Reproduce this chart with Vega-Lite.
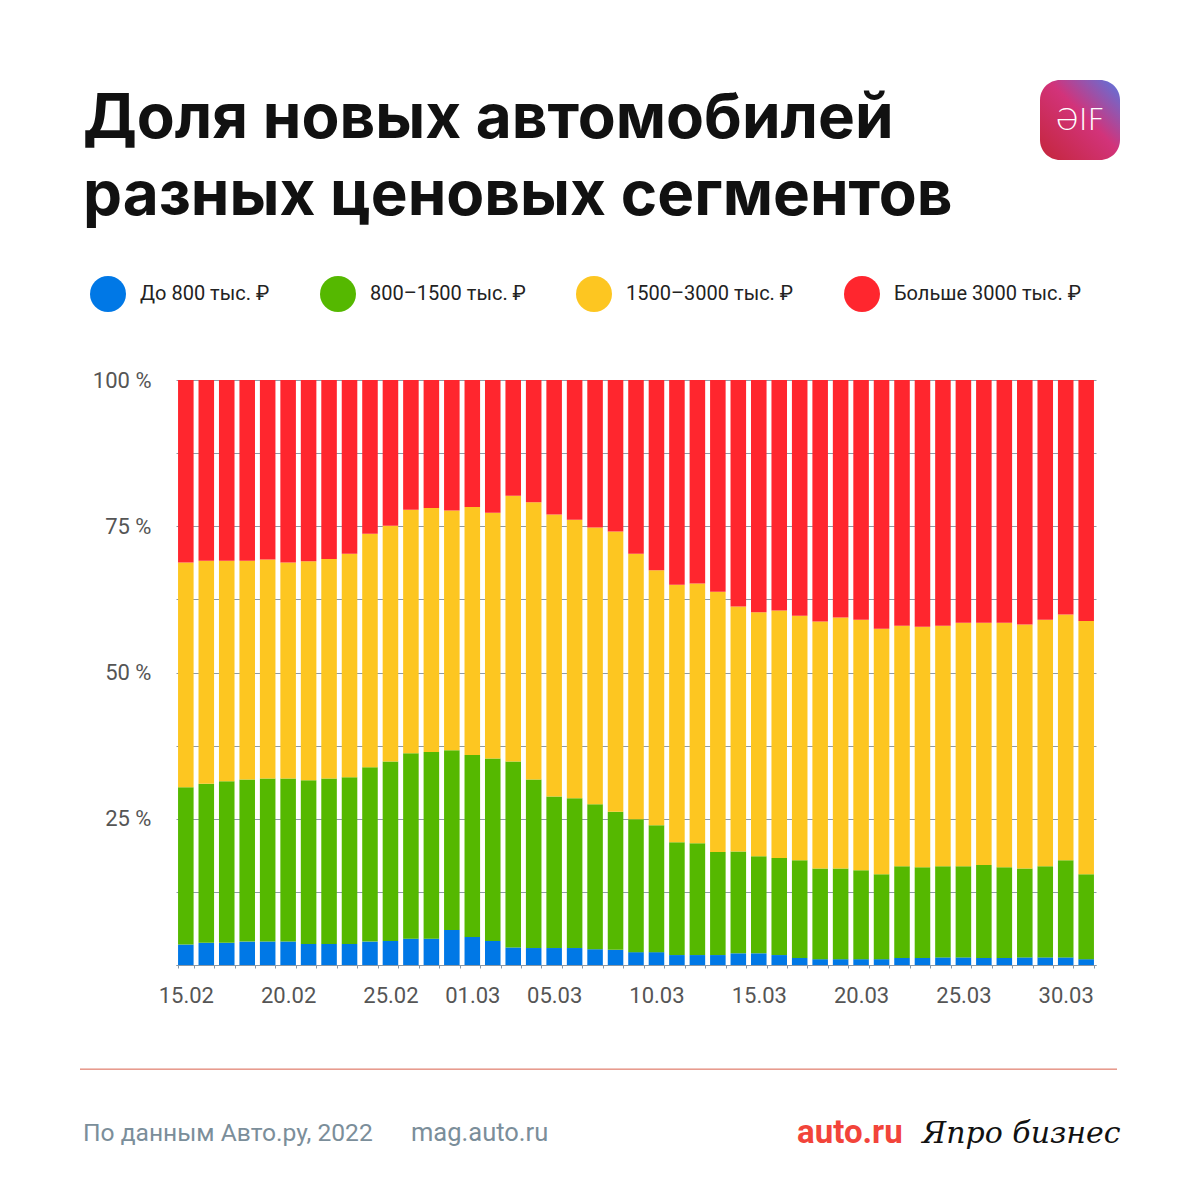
{
  "$schema": "https://vega.github.io/schema/vega-lite/v6.json",
  "width": 920,
  "height": 585,
  "autosize": {"type": "none"},
  "padding": {"left": 176, "top": 380, "right": 104, "bottom": 235},
  "background": "#ffffff",
  "config": {"view": {"stroke": null}, "font": "Roboto"},
  "layer": [
    {
      "data": {
        "values": [
          {"date": "15.02", "s1": 3.5, "s2": 26.9, "s3": 38.4, "s4": 31.2},
          {"date": "16.02", "s1": 3.8, "s2": 27.2, "s3": 38.1, "s4": 30.9},
          {"date": "17.02", "s1": 3.8, "s2": 27.6, "s3": 37.7, "s4": 30.9},
          {"date": "18.02", "s1": 4.0, "s2": 27.7, "s3": 37.4, "s4": 30.9},
          {"date": "19.02", "s1": 4.0, "s2": 27.9, "s3": 37.4, "s4": 30.7},
          {"date": "20.02", "s1": 4.0, "s2": 27.9, "s3": 36.9, "s4": 31.2},
          {"date": "21.02", "s1": 3.6, "s2": 28.0, "s3": 37.4, "s4": 31.0},
          {"date": "22.02", "s1": 3.6, "s2": 28.3, "s3": 37.5, "s4": 30.6},
          {"date": "23.02", "s1": 3.6, "s2": 28.5, "s3": 38.2, "s4": 29.7},
          {"date": "24.02", "s1": 4.0, "s2": 29.8, "s3": 39.9, "s4": 26.3},
          {"date": "25.02", "s1": 4.1, "s2": 30.7, "s3": 40.3, "s4": 24.9},
          {"date": "26.02", "s1": 4.5, "s2": 31.7, "s3": 41.6, "s4": 22.2},
          {"date": "27.02", "s1": 4.5, "s2": 31.9, "s3": 41.7, "s4": 21.9},
          {"date": "28.02", "s1": 6.0, "s2": 30.7, "s3": 41.0, "s4": 22.3},
          {"date": "01.03", "s1": 4.8, "s2": 31.1, "s3": 42.4, "s4": 21.7},
          {"date": "02.03", "s1": 4.1, "s2": 31.2, "s3": 42.0, "s4": 22.7},
          {"date": "03.03", "s1": 3.0, "s2": 31.8, "s3": 45.4, "s4": 19.8},
          {"date": "04.03", "s1": 2.9, "s2": 28.8, "s3": 47.4, "s4": 20.9},
          {"date": "05.03", "s1": 2.9, "s2": 25.9, "s3": 48.2, "s4": 23.0},
          {"date": "06.03", "s1": 2.9, "s2": 25.6, "s3": 47.6, "s4": 23.9},
          {"date": "07.03", "s1": 2.7, "s2": 24.8, "s3": 47.3, "s4": 25.2},
          {"date": "08.03", "s1": 2.6, "s2": 23.6, "s3": 47.9, "s4": 25.9},
          {"date": "09.03", "s1": 2.2, "s2": 22.7, "s3": 45.4, "s4": 29.7},
          {"date": "10.03", "s1": 2.2, "s2": 21.7, "s3": 43.6, "s4": 32.5},
          {"date": "11.03", "s1": 1.7, "s2": 19.3, "s3": 44.0, "s4": 35.0},
          {"date": "12.03", "s1": 1.7, "s2": 19.1, "s3": 44.4, "s4": 34.8},
          {"date": "13.03", "s1": 1.7, "s2": 17.6, "s3": 44.5, "s4": 36.2},
          {"date": "14.03", "s1": 2.0, "s2": 17.4, "s3": 41.9, "s4": 38.7},
          {"date": "15.03", "s1": 2.0, "s2": 16.6, "s3": 41.7, "s4": 39.7},
          {"date": "16.03", "s1": 1.7, "s2": 16.6, "s3": 42.3, "s4": 39.4},
          {"date": "17.03", "s1": 1.2, "s2": 16.7, "s3": 41.8, "s4": 40.3},
          {"date": "18.03", "s1": 1.0, "s2": 15.5, "s3": 42.2, "s4": 41.3},
          {"date": "19.03", "s1": 1.0, "s2": 15.5, "s3": 42.9, "s4": 40.6},
          {"date": "20.03", "s1": 1.0, "s2": 15.2, "s3": 42.8, "s4": 41.0},
          {"date": "21.03", "s1": 1.0, "s2": 14.5, "s3": 42.0, "s4": 42.5},
          {"date": "22.03", "s1": 1.2, "s2": 15.7, "s3": 41.1, "s4": 42.0},
          {"date": "23.03", "s1": 1.2, "s2": 15.5, "s3": 41.1, "s4": 42.2},
          {"date": "24.03", "s1": 1.3, "s2": 15.6, "s3": 41.1, "s4": 42.0},
          {"date": "25.03", "s1": 1.3, "s2": 15.6, "s3": 41.6, "s4": 41.5},
          {"date": "26.03", "s1": 1.2, "s2": 15.9, "s3": 41.4, "s4": 41.5},
          {"date": "27.03", "s1": 1.2, "s2": 15.5, "s3": 41.8, "s4": 41.5},
          {"date": "28.03", "s1": 1.3, "s2": 15.2, "s3": 41.7, "s4": 41.8},
          {"date": "29.03", "s1": 1.3, "s2": 15.6, "s3": 42.1, "s4": 41.0},
          {"date": "30.03", "s1": 1.3, "s2": 16.6, "s3": 42.0, "s4": 40.1},
          {"date": "31.03", "s1": 1.0, "s2": 14.5, "s3": 43.3, "s4": 41.2}
        ]
      },
      "transform": [{"fold": ["s1", "s2", "s3", "s4"], "as": ["seg", "share"]}],
      "mark": {"type": "bar"},
      "encoding": {
        "x": {
          "field": "date",
          "type": "nominal",
          "sort": null,
          "scale": {"paddingInner": 0.24, "paddingOuter": 0.1},
          "axis": {
            "title": null,
            "labelExpr": "indexof(['15.02', '20.02', '25.02', '01.03', '05.03', '10.03', '15.03', '20.03', '25.03', '30.03'], datum.label) >= 0 ? datum.label : ''",
            "labelOverlap": false,
            "labelAngle": 0,
            "labelFontSize": 22,
            "labelColor": "#555555",
            "labelPadding": 17,
            "ticks": true,
            "tickBand": "extent",
            "tickSize": 3,
            "tickColor": "#8a98a5",
            "domainColor": "#8a98a5",
            "domainWidth": 1
          }
        },
        "y": {
          "field": "share",
          "type": "quantitative",
          "stack": "zero",
          "scale": {"domain": [0, 100], "nice": false},
          "axis": {
            "title": null,
            "values": [0, 12.5, 25, 37.5, 50, 62.5, 75, 87.5, 100],
            "labelExpr": "datum.value > 0 && datum.value % 25 == 0 ? datum.value + ' %' : ''",
            "domain": false,
            "ticks": false,
            "gridColor": "#8f9ba6",
            "gridWidth": 1,
            "labelFontSize": 22,
            "labelColor": "#555555",
            "labelPadding": 25
          }
        },
        "color": {
          "field": "seg",
          "type": "nominal",
          "scale": {"domain": ["s1", "s2", "s3", "s4"], "range": ["#0078e6", "#55b800", "#fdc621", "#ff262e"]},
          "legend": {
            "orient": "none",
            "legendX": -86,
            "legendY": -104,
            "direction": "horizontal",
            "title": null,
            "padding": 0,
            "symbolType": "circle",
            "symbolSize": 1296,
            "symbolStrokeWidth": 0,
            "symbolOpacity": 1,
            "labelFontSize": 20,
            "labelColor": "#222222",
            "labelOffset": 14,
            "labelLimit": 400,
            "columnPadding": 50,
            "labelExpr": "datum.label == 's1' ? 'До 800 тыс. ₽' : datum.label == 's2' ? '800–1500 тыс. ₽' : datum.label == 's3' ? '1500–3000 тыс. ₽' : 'Больше 3000 тыс. ₽'"
          }
        },
        "order": {"field": "seg", "sort": "ascending"}
      }
    },
    {
      "layer": [
        {
          "data": {"values": [{"t": "Доля новых автомобилей\nразных ценовых сегментов"}]},
          "mark": {"type": "text", "lineBreak": "\n", "lineHeight": 77, "font": "Inter", "fontSize": 62, "fontWeight": 700, "color": "#111111", "align": "left", "baseline": "alphabetic"},
          "encoding": {
            "x": {"datum": -93, "type": "quantitative", "scale": {"domain": [0, 920], "nice": false}, "axis": null},
            "y": {"datum": 141.4, "type": "quantitative", "scale": {"domain": [0, 100], "nice": false}, "axis": null},
            "text": {"field": "t"}
          }
        },
        {
          "data": {"values": [{"t": "logo"}]},
          "mark": {
            "type": "rect",
            "cornerRadius": 20,
            "fill": {
              "gradient": "linear",
              "x1": 0, "y1": 1, "x2": 1, "y2": 0,
              "stops": [
                {"offset": 0, "color": "#c4263a"},
                {"offset": 0.55, "color": "#d2337a"},
                {"offset": 1, "color": "#5876e0"}
              ]
            }
          },
          "encoding": {
            "x": {"datum": 864, "type": "quantitative", "scale": {"domain": [0, 920], "nice": false}, "axis": null},
            "x2": {"datum": 944},
            "y": {"datum": 151.3, "type": "quantitative", "scale": {"domain": [0, 100], "nice": false}, "axis": null},
            "y2": {"datum": 137.6}
          }
        },
        {
          "data": {"values": [{"t": "ƏIF"}]},
          "mark": {"type": "text", "font": "DejaVu Sans", "fontSize": 30, "fontWeight": 300, "color": "#ffffff", "align": "center", "baseline": "middle"},
          "encoding": {
            "x": {"datum": 904, "type": "quantitative", "scale": {"domain": [0, 920], "nice": false}, "axis": null},
            "y": {"datum": 144.3, "type": "quantitative", "scale": {"domain": [0, 100], "nice": false}, "axis": null},
            "text": {"field": "t"}
          }
        },
        {
          "data": {"values": [{"t": "line"}]},
          "mark": {"type": "rule", "color": "#d9604c", "strokeWidth": 1},
          "encoding": {
            "x": {"datum": -96, "type": "quantitative", "scale": {"domain": [0, 920], "nice": false}, "axis": null},
            "x2": {"datum": 941},
            "y": {"datum": -17.8, "type": "quantitative", "scale": {"domain": [0, 100], "nice": false}, "axis": null}
          }
        },
        {
          "data": {"values": [{"t": "По данным Авто.ру, 2022"}]},
          "mark": {"type": "text", "fontSize": 24.6, "color": "#7b8e9a", "align": "left", "baseline": "alphabetic"},
          "encoding": {
            "x": {"datum": -93, "type": "quantitative", "scale": {"domain": [0, 920], "nice": false}, "axis": null},
            "y": {"datum": -30.1, "type": "quantitative", "scale": {"domain": [0, 100], "nice": false}, "axis": null},
            "text": {"field": "t"}
          }
        },
        {
          "data": {"values": [{"t": "mag.auto.ru"}]},
          "mark": {"type": "text", "fontSize": 25.5, "color": "#7b8e9a", "align": "left", "baseline": "alphabetic"},
          "encoding": {
            "x": {"datum": 235, "type": "quantitative", "scale": {"domain": [0, 920], "nice": false}, "axis": null},
            "y": {"datum": -30.1, "type": "quantitative", "scale": {"domain": [0, 100], "nice": false}, "axis": null},
            "text": {"field": "t"}
          }
        },
        {
          "data": {"values": [{"t": "auto.ru"}]},
          "mark": {"type": "text", "fontSize": 33, "fontWeight": 700, "color": "#f2443a", "align": "left", "baseline": "alphabetic"},
          "encoding": {
            "x": {"datum": 621, "type": "quantitative", "scale": {"domain": [0, 920], "nice": false}, "axis": null},
            "y": {"datum": -30.4, "type": "quantitative", "scale": {"domain": [0, 100], "nice": false}, "axis": null},
            "text": {"field": "t"}
          }
        },
        {
          "data": {"values": [{"t": "Япро бизнес"}]},
          "mark": {"type": "text", "font": "DejaVu Serif", "fontStyle": "italic", "fontSize": 30, "color": "#111111", "align": "left", "baseline": "alphabetic"},
          "encoding": {
            "x": {"datum": 746, "type": "quantitative", "scale": {"domain": [0, 920], "nice": false}, "axis": null},
            "y": {"datum": -30.4, "type": "quantitative", "scale": {"domain": [0, 100], "nice": false}, "axis": null},
            "text": {"field": "t"}
          }
        }
      ]
    }
  ],
  "resolve": {
    "scale": {"x": "independent", "y": "independent"},
    "axis": {"x": "independent", "y": "independent"}
  }
}
